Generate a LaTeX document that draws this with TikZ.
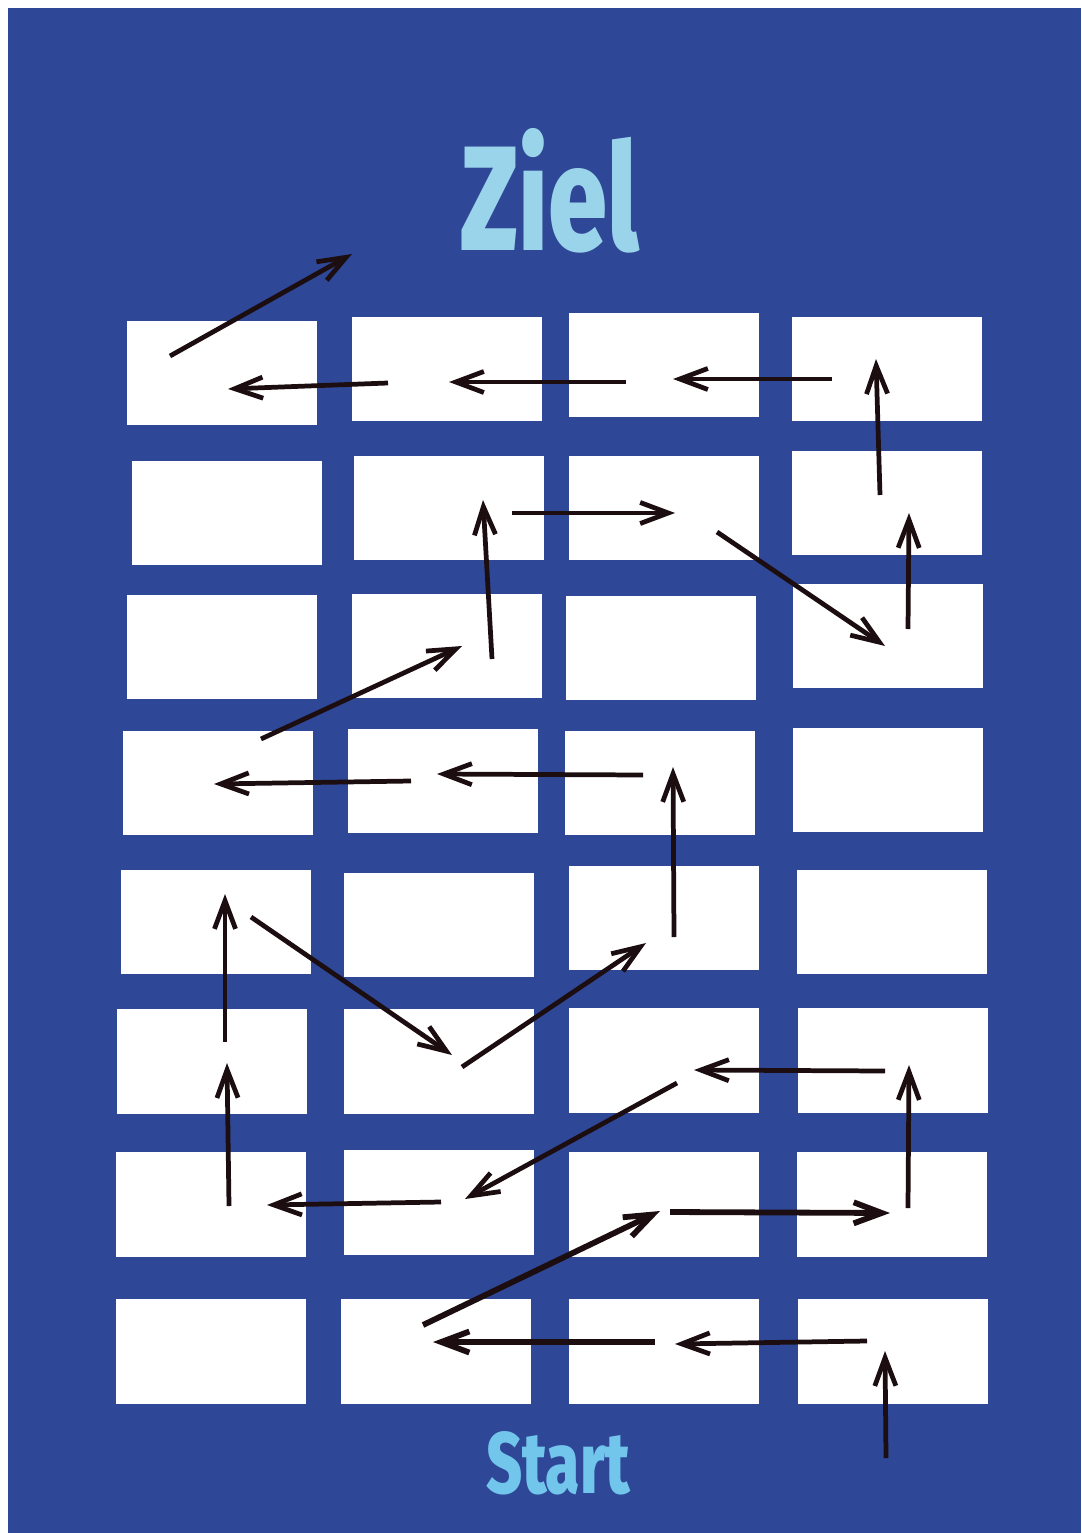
\documentclass[tikz,border=0pt]{standalone}
\usepackage{fontspec}
\setmainfont{Fira Sans}
\newfontfamily\titelschrift{Fira Sans ExtraBold}
\usepackage{graphicx}
\usepackage{tikz}
\usetikzlibrary{arrows.meta}

\definecolor{Grund}{RGB}{46,71,150}
\definecolor{ZielBlau}{RGB}{154,212,235}
\definecolor{StartBlau}{RGB}{114,198,236}
\definecolor{Pfeil}{RGB}{28,14,16}

\begin{document}
\begin{tikzpicture}[
        x=0.02cm, y=-0.02cm,
        feld/.style={fill=white, draw=none, minimum width=3.8cm, minimum height=2.1cm, inner sep=0pt},
        pfeil/.style={draw=Pfeil, line width=2.7pt, -{Straight Barb[length=16pt,width=12pt]}},
        dick/.style={pfeil, line width=3.3pt},
        titel/.style={inner sep=0pt, font=\titelschrift}
    ]
        \useasboundingbox (0,0) rectangle (1081,1533);
        \fill[white] (0,0) rectangle (1081,1533);
        \fill[Grund] (8,8) rectangle (1081,1533);

        % Spielfelder, Reihe von oben nach unten
        \foreach \r/\c/\x/\y in {1/1/222/373, 1/2/447/369, 1/3/664/365, 1/4/887/369,
                                 2/1/227/513, 2/2/449/508, 2/3/664/508, 2/4/887/503,
                                 3/1/222/647, 3/2/447/646, 3/3/661/648, 3/4/888/636,
                                 4/1/218/783, 4/2/443/781, 4/3/660/783, 4/4/888/780,
                                 5/1/216/922, 5/2/439/925, 5/3/664/918, 5/4/892/922,
                                 6/1/212/1061, 6/2/439/1061, 6/3/664/1060, 6/4/893/1060,
                                 7/1/211/1204, 7/2/439/1202, 7/3/664/1204, 7/4/892/1204,
                                 8/1/211/1351, 8/2/436/1351, 8/3/664/1351, 8/4/893/1351}
            \node[feld] (f\r\c) at (\x,\y) {};

        \node[titel, text=ZielBlau] (ziel) at (550,191) {\resizebox{3.58cm}{2.44cm}{Ziel}};
        \node[titel, text=StartBlau] (start) at (558,1463) {\resizebox{2.88cm}{1.24cm}{Start}};

        % Weg vom Start zum Ziel
        \draw[pfeil] ([shift={(-7,107)}]f84.center) -- ([shift={(-8,0)}]f84.center);
        \draw[pfeil] ([shift={(-26,-10)}]f84.center) -- ([shift={(11,-7)}]f83.center);
        \draw[dick] ([shift={(-9,-9)}]f83.center) -- ([shift={(-3,-9)}]f82.center);
        \draw[dick] ([shift={(-13,-26)}]f82.center) -- ([shift={(-4,7)}]f73.center);
        \draw[dick] ([shift={(6,8)}]f73.center) -- ([shift={(-2,9)}]f74.center);
        \draw[pfeil] ([shift={(16,4)}]f74.center) -- ([shift={(16,5)}]f64.center);
        \draw[pfeil] ([shift={(-8,11)}]f64.center) -- ([shift={(30,10)}]f63.center);
        \draw[pfeil] ([shift={(13,23)}]f63.center) -- ([shift={(26,-3)}]f72.center);
        \draw[pfeil] ([shift={(2,0)}]f72.center) -- ([shift={(56,1)}]f71.center);
        \draw[pfeil] ([shift={(18,2)}]f71.center) -- ([shift={(15,2)}]f61.center);
        \draw[pfeil] ([shift={(13,-19)}]f61.center) -- ([shift={(9,-28)}]f51.center);
        \draw[pfeil] ([shift={(35,-5)}]f51.center) -- ([shift={(13,-6)}]f62.center);
        \draw[pfeil] ([shift={(23,6)}]f62.center) -- ([shift={(-18,25)}]f53.center);
        \draw[pfeil] ([shift={(10,19)}]f53.center) -- ([shift={(13,-16)}]f43.center);
        \draw[pfeil] ([shift={(-17,-8)}]f43.center) -- ([shift={(-6,-7)}]f42.center);
        \draw[pfeil] ([shift={(-32,0)}]f42.center) -- ([shift={(-4,1)}]f41.center);
        \draw[pfeil] ([shift={(43,-44)}]f41.center) -- ([shift={(15,0)}]f32.center);
        \draw[pfeil] ([shift={(45,13)}]f32.center) -- ([shift={(34,-8)}]f22.center);
        \draw[pfeil] ([shift={(63,5)}]f22.center) -- ([shift={(11,5)}]f23.center);
        \draw[pfeil] ([shift={(53,24)}]f23.center) -- ([shift={(-3,10)}]f34.center);
        \draw[pfeil] ([shift={(20,-7)}]f34.center) -- ([shift={(22,10)}]f24.center);
        \draw[pfeil] ([shift={(-7,-8)}]f24.center) -- ([shift={(-11,-10)}]f14.center);
        \draw[pfeil] ([shift={(-55,10)}]f14.center) -- ([shift={(9,14)}]f13.center);
        \draw[pfeil] ([shift={(-38,17)}]f13.center) -- ([shift={(2,13)}]f12.center);
        \draw[pfeil] ([shift={(-59,14)}]f12.center) -- ([shift={(6,16)}]f11.center);
        \draw[pfeil] ([shift={(-52,-17)}]f11.center) -- ([shift={(130,-119)}]f11.center);
    \end{tikzpicture}
\end{document}
